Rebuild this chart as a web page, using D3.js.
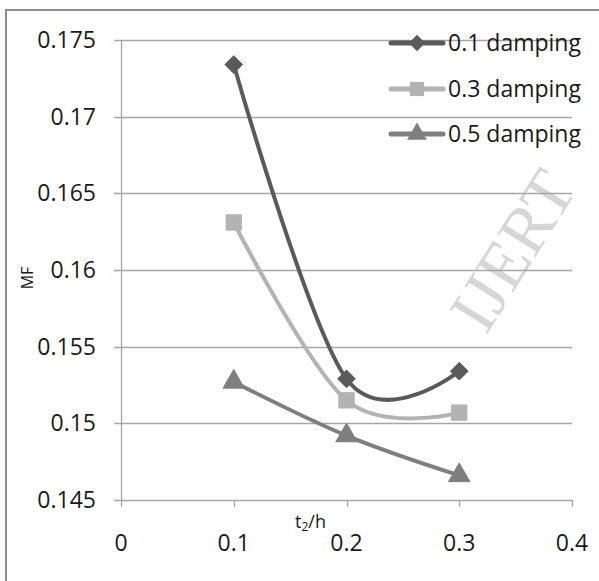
<!DOCTYPE html>
<html>
<head>
<meta charset="utf-8">
<script src="https://cdn.jsdelivr.net/npm/d3@7"></script>
<style>
  body { margin: 0; background: #fff; }
  svg { display: block; }
  text { font-family: "Open Sans", "Liberation Sans", sans-serif; fill: #1a1a1a; }
  text.wm { font-family: "Liberation Serif", "DejaVu Serif", serif; fill: #d6d6d6; }
</style>
</head>
<body>
<svg id="chart" width="599" height="581"></svg>
<script>
// ---- data ----
const xValues = [0.1, 0.2, 0.3];
const damping01 = [0.1734, 0.1529, 0.1534];
const damping03 = [0.1631, 0.1515, 0.1507];
const damping05 = [0.1527, 0.1492, 0.1466];
const seriesNames = ["0.1 damping", "0.3 damping", "0.5 damping"];
const xTicks = [0, 0.1, 0.2, 0.3, 0.4];
const yTicks = [0.145, 0.15, 0.155, 0.16, 0.165, 0.17, 0.175];
const yTickLabels = ["0.145", "0.15", "0.155", "0.16", "0.165", "0.17", "0.175"];
const xTickLabels = ["0", "0.1", "0.2", "0.3", "0.4"];

const svg = d3.select("#chart");

// outer frame (cropped on right/bottom)
svg.append("rect").attr("x", 6).attr("y", 10).attr("width", 620).attr("height", 620)
  .attr("fill", "#fff").attr("stroke", "#8c8c8c").attr("stroke-width", 2);

const x = d3.scaleLinear().domain([0, 0.4]).range([121, 572]);
const y = d3.scaleLinear().domain([0.145, 0.175]).range([500, 40]);

const gridColor = "#a6a6a6";

// watermark
svg.append("text").attr("class", "wm")
  .attr("transform", "translate(486,336) rotate(-58)")
  .attr("font-size", 68)
  .text("IJERT");

// horizontal gridlines
svg.append("g").selectAll("line").data(yTicks).join("line")
  .attr("x1", 114).attr("x2", 572)
  .attr("y1", d => Math.round(y(d)) + 0.5).attr("y2", d => Math.round(y(d)) + 0.5)
  .attr("stroke", gridColor).attr("stroke-width", 1.3);

// y axis line
svg.append("line").attr("x1", 121.5).attr("x2", 121.5).attr("y1", y(0.175)).attr("y2", y(0.145))
  .attr("stroke", gridColor).attr("stroke-width", 1.3);

// x tick marks
svg.append("g").selectAll("line").data(xTicks).join("line")
  .attr("x1", d => Math.round(x(d)) + 0.5).attr("x2", d => Math.round(x(d)) + 0.5)
  .attr("y1", 500).attr("y2", 507)
  .attr("stroke", gridColor).attr("stroke-width", 1.3);

// y tick labels
svg.append("g").selectAll("text").data(yTicks).join("text")
  .attr("x", 96).attr("y", d => y(d)).attr("dy", "0.35em")
  .attr("text-anchor", "end").attr("font-size", 23)
  .text((d, i) => yTickLabels[i]);

// x tick labels
svg.append("g").selectAll("text").data(xTicks).join("text")
  .attr("x", d => x(d)).attr("y", 551)
  .attr("text-anchor", "middle").attr("font-size", 23)
  .text((d, i) => xTickLabels[i]);

// axis titles
svg.append("text").attr("transform", "translate(33,278) rotate(-90)")
  .attr("text-anchor", "middle").attr("font-size", 16).text("MF");
const xt = svg.append("text").attr("x", 295).attr("y", 528).attr("font-size", 18);
xt.append("tspan").text("t");
xt.append("tspan").attr("font-size", 12).attr("dy", 3).text("2");
xt.append("tspan").attr("dy", -3).text("/h");

// series
const series = [
  { name: seriesNames[0], values: damping01, color: "#5a5a5a", symbol: d3.symbolDiamond2, size: 200 },
  { name: seriesNames[1], values: damping03, color: "#b3b3b3", symbol: d3.symbolSquare2, size: 300 },
  { name: seriesNames[2], values: damping05, color: "#7f7f7f", symbol: d3.symbolTriangle, size: 200 }
];

const line = d3.line().x(d => x(d[0])).y(d => y(d[1])).curve(d3.curveCardinal.tension(0));

series.forEach(s => {
  const pts = xValues.map((xv, i) => [xv, s.values[i]]);
  svg.append("path").datum(pts).attr("d", line)
    .attr("fill", "none").attr("stroke", s.color).attr("stroke-width", 4)
    .attr("stroke-linecap", "round");
  svg.append("g").selectAll("path").data(pts).join("path")
    .attr("transform", d => `translate(${x(d[0])},${y(d[1])})`)
    .attr("d", d3.symbol().type(s.symbol).size(s.size))
    .attr("fill", s.color).attr("stroke", s.color).attr("stroke-width", 1);
});

// legend
const legendY = [43, 89, 134];
const lg = svg.append("g");
series.forEach((s, i) => {
  const g = lg.append("g").attr("transform", `translate(0,${legendY[i]})`);
  g.append("line").attr("x1", 391).attr("x2", 443).attr("y1", 0).attr("y2", 0)
    .attr("stroke", s.color).attr("stroke-width", 5).attr("stroke-linecap", "round");
  g.append("path").attr("transform", "translate(417,0)")
    .attr("d", d3.symbol().type(s.symbol).size(s.size * 0.85))
    .attr("fill", s.color);
  g.append("text").attr("x", 448).attr("y", 0).attr("dy", "0.36em")
    .attr("font-size", 23).text(s.name);
});
</script>
</body>
</html>
